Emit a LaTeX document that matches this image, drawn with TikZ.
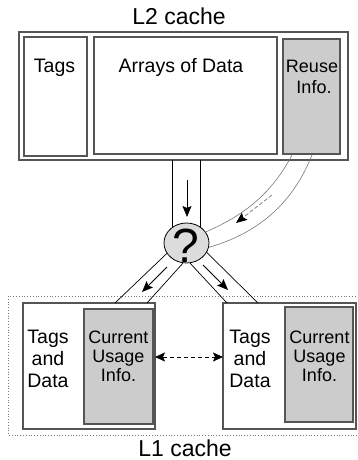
\documentclass[tikz,border=0pt]{standalone}
\usepackage{fontspec}
\setmainfont{Liberation Sans}
\usetikzlibrary{arrows.meta,shapes.geometric}
\definecolor{bordercol}{RGB}{85,85,85}
\definecolor{infofill}{RGB}{204,204,204}
\definecolor{qfill}{RGB}{220,220,220}
\definecolor{pathcol}{RGB}{120,120,120}
\tikzset{
  box/.style={draw=bordercol,line width=1.2pt,fill=white},
  infobox/.style={draw=bordercol,line width=1.2pt,fill=infofill},
  lbl/.style={font=\fontsize{18}{20}\selectfont,align=center,inner sep=0pt},
  biglbl/.style={font=\fontsize{19.5}{20}\selectfont,align=center,inner sep=0pt},
  title/.style={font=\fontsize{23}{24}\selectfont,inner sep=0pt,anchor=base},
  wall/.style={draw=black,line width=0.7pt},
  cwall/.style={draw=pathcol,line width=0.6pt},
  flow/.style={line width=0.8pt,-{Stealth[length=11pt,width=9pt,inset=2pt]}},
  cflow/.style={draw=pathcol,line width=0.7pt,dash pattern=on 4pt off 2pt,-{Stealth[length=11pt,width=9pt,inset=2pt,color=black,fill=black]}},
  swap/.style={line width=0.8pt,dash pattern=on 4pt off 3pt,{Stealth[length=10pt,width=9pt,inset=2pt]}-{Stealth[length=10pt,width=9pt,inset=2pt]}},
}
\begin{document}
\begin{tikzpicture}[x=1pt,y=-1pt]
\useasboundingbox (0,0) rectangle (357,460);
% L2 cache
\node[title] (l2t) at (179,25) {L2 cache};
\draw[draw=bordercol,line width=1.2pt] (19,32) rectangle (348,160);
\draw[box] (24,37) rectangle (87,156);
\draw[box] (94,37) rectangle (277,154);
\draw[infobox] (283,39) rectangle (340,154);
\node[biglbl,anchor=base] (tags) at (54.5,73) {Tags};
\node[biglbl,anchor=base] (arr) at (181,73) {Arrays of Data};
\node[lbl,anchor=base] (reuse) at (312,73) {Reuse};
\node[lbl,anchor=base] (info) at (314,93) {Info.};
% decision
\node[ellipse,draw=black,line width=0.8pt,fill=qfill,minimum width=45pt,minimum height=40pt,inner sep=0pt] (q) at (186.5,243) {};
\node[font=\fontsize{48}{48}\selectfont,inner sep=0pt,anchor=base] (qm) at (186,262.5) {?};
% vertical channel
\coordinate (va) at (172,160);
\coordinate (vb) at (200,160);
\draw[wall] (va) -- (va |- q.133.5);
\draw[wall] (vb) -- (vb |- q.49.8);
\coordinate (fa) at (187,180);
\coordinate (fb) at (187,217);
\draw[flow] (fa) -- (fb);
% curved channel from reuse info
\coordinate (ra) at (292,155);
\coordinate (rb) at (312,155);
\draw[cwall] (ra) .. controls (272,193) and (245,215) .. (q.30.7);
\draw[cwall] (rb) .. controls (294,200) and (262,232) .. (q.349.5);
\coordinate (ca) at (272,195);
\coordinate (cb) at (236,223);
\draw[cflow] (ca) -- (cb);
% L1 dotted box
\draw[draw=pathcol,line width=0.8pt,dotted] (8,296) rectangle (362,435);
% L1 boxes
\draw[box] (23,303) rectangle (155,429);
\draw[infobox] (84,309) rectangle (153,424);
\draw[box] (223,303) rectangle (356,429);
\draw[infobox] (285,307) rectangle (353,422);
\node[biglbl,anchor=base] (td1) at (48,387) {Tags\\[2pt]and\\[2pt]Data};
\node[lbl,anchor=base] (cu1) at (118.5,381) {Current\\[-1pt]Usage\\[-1pt]Info.};
\node[biglbl,anchor=base] (td2) at (250,387) {Tags\\[2pt]and\\[2pt]Data};
\node[lbl,anchor=base] (cu2) at (319.5,381) {Current\\[-1pt]Usage\\[-1pt]Info.};
% lower channels
\coordinate (la) at (115,303);
\coordinate (lb) at (147,303);
\coordinate (rc) at (227,303);
\coordinate (rd) at (258,303);
\draw[wall] (q.208) -- (la);
\draw[wall] (q.260) -- (lb);
\draw[wall] (q.280) -- (rc);
\draw[wall] (q.335) -- (rd);
\coordinate (lfa) at (167,267);
\coordinate (lfb) at (142,292);
\coordinate (rfa) at (203,265);
\coordinate (rfb) at (228,290);
\draw[flow] (lfa) -- (lfb);
\draw[flow] (rfa) -- (rfb);
% swap arrow
\coordinate (sa) at (155,357);
\coordinate (sb) at (223,357);
\draw[swap] (sa) -- (sb);
\node[title] (l1t) at (185,456) {L1 cache};
\end{tikzpicture}
\end{document}
